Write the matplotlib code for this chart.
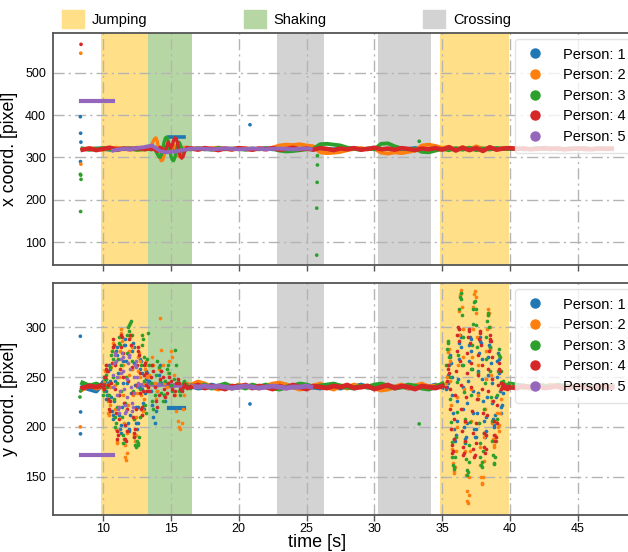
import matplotlib
matplotlib.use("Agg")
import matplotlib.pyplot as plt
import numpy as np
from matplotlib.lines import Line2D
from matplotlib.patches import Patch

plt.rcParams["font.family"] = ["Liberation Sans", "DejaVu Sans"]
nan = np.nan

# ---- data ----
person_labels = ["Person: 1", "Person: 2", "Person: 3", "Person: 4", "Person: 5"]
person_colors = ["tab:blue", "tab:orange", "tab:green", "tab:red", "tab:purple"]

jumping_spans = [(9.85, 13.3), (34.85, 39.95)]
shaking_spans = [(13.3, 16.55)]
crossing_spans = [(22.8, 26.3), (30.25, 34.15)]

# common coarse time grid for the steady tracks (0.5 s)
t_band = np.arange(8.5, 47.51, 0.5)

x_band_p1 = ([320, 319, 321, 320, 318, 321, 320, 322, 319, 320] + [nan] * 6 +
             [320, 321, 319, 320, 322, 320, 319, 321, 320, 319,
              320, 322, 319, 321, 320, 318, 321, 320, 319, 321,
              320, 319, 321, 320, 322, 319, 320, 321, 319, 320,
              321, 319, 320, 322, 320, 319, 321, 320, 322, 319,
              321, 318, 322, 320, 319, 321, 320,
              320, 321, 319, 320, 321, 320, 319, 321, 320, 320, 321, 319, 320, 321, 320, 320])
x_band_p2 = ([319, 322, 320, 318, 321, 323, 319, 321, 318, 320] + [nan] * 6 +
             [320, 322, 319, 321, 323, 320, 318, 321, 322, 319,
              321, 320, 323, 328, 330, 329, 331, 328, 326, 312,
              310, 311, 313, 317, 320, 322, 319, 321, 311, 309,
              312, 310, 313, 316, 328, 330, 327, 322, 325, 318,
              324, 319, 326, 320, 323, 318, 322,
              321, 320, 322, 319, 321, 320, 322, 321, 319, 320, 322, 321, 320, 319, 321, 322])
x_band_p3 = ([321, 318, 320, 322, 319, 317, 321, 320, 318, 319] + [nan] * 6 +
             [319, 321, 320, 318, 322, 319, 321, 320, 318, 321,
              319, 321, 320, 316, 314, 315, 317, 319, 320, 331,
              332, 330, 328, 323, 320, 318, 321, 319, 332, 333,
              326, 321, 319, 320, 313, 312, 316, 320, 317, 322,
              318, 323, 317, 321, 319, 322, 320,
              320, 321, 319, 320, 322, 320, 321, 319, 320, 321, 320, 322, 319, 320, 321, 320])
x_band_p4 = ([318, 321, 317, 320, 323, 318, 321, 319, 322, 320] + [nan] * 6 +
             [321, 318, 322, 320, 317, 321, 319, 322, 320, 318,
              321, 319, 322, 318, 320, 323, 319, 321, 318, 322,
              320, 317, 321, 319, 322, 318, 320, 323, 319, 321,
              318, 322, 320, 317, 321, 319, 322, 318, 324, 316,
              323, 317, 322, 315, 324, 318, 321,
              322, 320, 321, 319, 320, 322, 320, 321, 319, 320, 321, 320, 319, 321, 320, 320])

y_band_p1 = ([240, 238, 236, 244] + [nan] * 12 +
             [241, 239, 240, 242, 240, 241, 239, 240, 241, 240,
              240, 241, 239, 240, 242, 240, 239, 241, 240, 239,
              241, 240, 239, 241, 240, 242, 240, 239, 241, 240,
              240, 241, 239, 240, 241, 240, 242, 240] + [nan] * 9 +
             [240, 241, 240, 239, 241, 240, 240, 241, 239, 240, 241, 240, 240, 239, 241, 240])
y_band_p2 = ([238, 242, 239, 241] + [nan] * 12 +
             [242, 245, 243, 240, 238, 241, 239, 242, 240, 241,
              239, 241, 243, 244, 242, 240, 238, 239, 241, 243,
              240, 238, 241, 239, 242, 240, 241, 239, 237, 238,
              240, 242, 239, 241, 243, 240, 241, 242] + [nan] * 9 +
             [242, 241, 240, 239, 241, 240, 242, 240, 239, 241, 240, 241, 239, 240, 241, 240])
y_band_p3 = ([244, 241, 243, 240] + [nan] * 12 +
             [241, 240, 242, 239, 241, 243, 240, 241, 239, 242,
              240, 242, 239, 238, 240, 241, 243, 242, 240, 241,
              242, 243, 241, 240, 239, 241, 240, 242, 243, 241,
              239, 240, 242, 241, 239, 238, 240, 243] + [nan] * 9 +
             [243, 242, 241, 240, 242, 241, 240, 242, 241, 240, 241, 242, 240, 241, 240, 241])
y_band_p4 = ([239, 241, 240, 242] + [nan] * 12 +
             [240, 242, 239, 241, 240, 238, 241, 240, 242, 239,
              241, 240, 238, 241, 239, 242, 240, 238, 241, 240,
              239, 241, 240, 242, 239, 240, 241, 238, 240, 242,
              239, 241, 240, 238, 241, 240, 239, 241] + [nan] * 9 +
             [240, 239, 241, 240, 242, 239, 240, 241, 239, 240, 241, 240, 239, 241, 240, 240])

# head shaking, x coordinate, 13.0 .. 16.5 s every 0.1 s
t_shake_x = np.linspace(13.0, 16.5, 36)
x_shake_p1 = [320, 321, 319, 320, 322, 321, 319, 320, 321, 320, 322, 321, 319, 320, 321,
              324, 322, 320, 321, 319, 320, 322, 321, 319, 320, 321, 320, 319, 321, 320,
              322, 321, 320, 319, 321, 320]
x_shake_p2 = [320, 321, 322, 320, 319, 323, 330, 338, 344, 346, 338, 318, 298, 292, 294,
              306, 318, 324, 326, 322, 318, 324, 330, 326, 314, 304, 302, 308, 316, 322,
              324, 322, 320, 321, 319, 320]
x_shake_p3 = [319, 320, 318, 321, 320, 318, 322, 324, 320, 314, 308, 302, 300, 306, 320,
              336, 346, 348, 340, 322, 304, 294, 292, 300, 316, 330, 336, 330, 320, 312,
              314, 318, 320, 321, 319, 320]
x_shake_p4 = [320, 318, 321, 319, 322, 320, 318, 321, 319, 316, 314, 318, 324, 322, 316,
              312, 316, 326, 336, 330, 322, 328, 340, 346, 344, 332, 314, 302, 298, 302,
              312, 320, 324, 322, 320, 321]

# jumping #1, y coordinate, 10.0 .. 13.3 s every 0.05 s
t_jump1 = np.linspace(10.0, 13.3, 67)
y_jump1_p1 = [240, 244, 250, 246, 236, 228, 232, 244, 256, 262,
              258, 246, 230, 216, 208, 212, 226, 246, 264, 276,
              280, 272, 254, 232, 212, 198, 194, 202, 220, 244,
              266, 282, 288, 282, 266, 244, 222, 204, 196, 198,
              212, 234, 258, 276, 284, 280, 264, 242, 220, 204,
              198, 204, 220, 240, 258, 268, 266, 254, 238, 224,
              218, 222, 234, 248, 256, 254, 246]
y_jump1_p2 = [238, 240, 246, 256, 262, 256, 242, 226, 214, 212,
              222, 240, 260, 276, 284, 280, 264, 242, 218, 198,
              186, 184, 196, 220, 250, 276, 294, 298, 286, 262,
              232, 204, 182, 170, 167, 174, 194, 222, 252, 276,
              290, 292, 280, 258, 232, 208, 192, 186, 192, 210,
              234, 256, 270, 274, 266, 250, 232, 218, 212, 216,
              228, 244, 258, 266, 262, 250, 240]
y_jump1_p3 = [232, 236, 242, 248, 252, 248, 240, 232, 228, 232,
              244, 260, 272, 276, 268, 250, 228, 210, 200, 204,
              220, 244, 268, 284, 290, 282, 262, 236, 210, 192,
              184, 188, 202, 224, 250, 274, 292, 300, 302, 296,
              304, 306, 292, 266, 236, 208, 190, 182, 180, 182,
              186, 184, 182, 190, 210, 238, 262, 282, 292, 288,
              270, 246, 222, 214, 236, 268, 294]
y_jump1_p4 = [240, 238, 242, 250, 258, 262, 256, 242, 228, 218,
              216, 226, 244, 264, 280, 288, 282, 262, 238, 214,
              196, 188, 192, 208, 232, 258, 280, 292, 290, 274,
              250, 224, 202, 188, 186, 196, 218, 246, 272, 288,
              292, 282, 260, 234, 210, 194, 190, 198, 218, 242,
              262, 276, 280, 272, 254, 234, 218, 212, 220, 236,
              252, 262, 264, 254, 242, 236, 240]
t_jump1_p5 = np.linspace(10.7, 12.6, 39)
y_jump1_p5 = [240, 252, 264, 272, 274, 266, 250, 232, 218, 214,
              220, 236, 254, 268, 274, 270, 256, 238, 222, 214,
              216, 230, 248, 264, 272, 270, 258, 240, 224, 216,
              220, 234, 250, 262, 266, 260, 250, 244, 242]

# head shaking, y coordinate, 13.4 .. 16.5 s every 0.1 s
t_shake_y = np.linspace(13.4, 16.5, 32)
t_shake_y_p1 = np.linspace(13.4, 14.6, 13)
y_shake_p1 = [246, 236, 222, 210, 204, 216, 236, 252, 262, 256, 244, 232, 226]
y_shake_p2 = [252, 262, 270, 262, 244, 228, 236, 258, 309, 277, 262, 244, 232, 240, 254, 266,
              276, 270, 252, 232, 216, 206, 200, 198, 204, 218, 232, 240, 244, 242, 240, 241]
y_shake_p3 = [262, 244, 226, 218, 232, 252, 266, 260, 246, 234, 226, 232, 246, 258, 262, 254,
              242, 236, 248, 277, 262, 246, 236, 232, 238, 244, 246, 243, 240, 241, 239, 240]
y_shake_p4 = [236, 250, 262, 256, 240, 226, 220, 232, 248, 256, 250, 238, 230, 234, 244, 250,
              246, 238, 232, 236, 244, 248, 244, 238, 236, 240, 243, 241, 239, 240, 241, 240]

# jumping #2, y coordinate, 35.3 .. 40.0 s every 0.05 s
t_jump2 = np.linspace(35.3, 40.0, 95)
y_jump2_p1 = [238, 240, 244, 252, 262, 270, 272, 264, 250, 232,
              214, 198, 188, 186, 192, 206, 226, 248, 268, 284,
              292, 290, 280, 262, 240, 218, 200, 188, 184, 190,
              204, 224, 246, 266, 282, 290, 288, 276, 258, 236,
              214, 198, 190, 190, 198, 214, 234, 256, 274, 286,
              290, 284, 268, 248, 226, 206, 194, 190, 196, 210,
              230, 252, 270, 282, 286, 280, 264, 244, 224, 208,
              200, 202, 212, 230, 250, 266, 274, 268, 254, 236,
              220, 214, 222, 234, 242, 240, 239,
              240, 241, 239, 240, 242, 240, 239, 241]
y_jump2_p2 = [244, 250, 262, 275, 278, 266, 246, 222, 198, 178,
              164, 156, 154, 160, 176, 200, 230, 262, 292, 316,
              332, 337, 334, 320, 298, 270, 238, 205, 176, 152,
              136, 126, 124, 132, 150, 176, 206, 238, 270, 298,
              320, 333, 336, 330, 314, 290, 262, 232, 204, 180,
              162, 150, 144, 143, 150, 166, 190, 218, 248, 276,
              298, 312, 318, 314, 300, 278, 252, 226, 204, 188,
              180, 182, 192, 205, 214, 208, 200, 196, 202, 214,
              228, 238, 242, 244, 241, 240, 239,
              241, 240, 242, 239, 240, 241, 240, 242]
y_jump2_p3 = [262, 278, 286, 284, 270, 250, 228, 205, 185, 170,
              162, 158, 160, 170, 190, 215, 245, 272, 298, 318,
              330, 334, 328, 312, 290, 262, 235, 208, 185, 168,
              157, 152, 155, 165, 182, 205, 232, 258, 282, 303,
              318, 325, 326, 318, 302, 280, 254, 228, 204, 184,
              170, 162, 160, 165, 176, 194, 218, 244, 268, 290,
              306, 314, 312, 300, 280, 256, 230, 206, 186, 172,
              164, 163, 170, 186, 208, 232, 256, 272, 278, 270,
              256, 245, 240, 242, 246, 243, 241,
              243, 242, 241, 243, 240, 242, 241, 240]
y_jump2_p4 = [240, 246, 258, 262, 254, 238, 218, 198, 182, 174,
              176, 188, 208, 232, 256, 276, 292, 300, 298, 286,
              266, 242, 218, 196, 180, 172, 174, 186, 206, 230,
              254, 274, 290, 298, 296, 284, 264, 240, 216, 194,
              178, 170, 172, 184, 204, 228, 252, 272, 288, 296,
              294, 282, 262, 238, 214, 194, 180, 174, 178, 192,
              212, 236, 258, 276, 288, 292, 286, 270, 248, 226,
              206, 192, 186, 190, 204, 222, 242, 258, 264, 256,
              244, 238, 240, 243, 241, 239, 240,
              239, 241, 240, 238, 240, 241, 239, 240]

# person 5: frozen box at start, then its own track
t_hold_p5 = [8.35, 10.7]
x_hold_p5 = [433, 433]
y_hold_p5 = [172, 172]
t_track_x_p5 = [10.75, 11.0, 11.5, 12.0, 12.5, 13.0, 13.3, 13.6, 13.9, 14.2, 14.6, 15.0,
                15.4, 15.8, 16.2, 16.5, 17.0, 17.5, 18.0, 18.5, 19.0, 19.5, 20.0, 20.5,
                21.0, 21.5, 22.0, 22.5, 23.0, 23.5, 24.0, 24.5, 25.0, 25.3]
x_track_p5 = [316, 318, 320, 319, 322, 324, 326, 328, 322, 315, 312, 313,
              314, 317, 319, 320, 321, 320, 319, 320, 321, 320, 319, 320,
              321, 320, 319, 320, 321, 320, 319, 320, 321, 320]
t_track_y_p5 = [12.6, 13.0, 13.5, 14.0, 14.5, 15.0, 15.5, 16.0, 16.5, 17.0, 17.5, 18.0,
                18.5, 19.0, 19.5, 20.0, 20.5, 21.0, 21.5, 22.0, 22.5, 23.0, 23.5, 24.0,
                24.5, 25.0, 25.3]
y_track_p5 = [241, 242, 243, 242, 243, 241, 242, 240, 241, 240, 241, 240,
              241, 240, 239, 240, 241, 240, 239, 240, 241, 240, 239, 240,
              240, 241, 240]

# person 1: box stuck while shaking
t_stuck_p1 = [14.85, 16.0]
x_stuck_p1 = [348, 348]
y_stuck_p1 = [219, 219]

# isolated detections (time, value, person index)
x_out_t = [8.38, 8.36, 8.33, 8.35, 8.37, 8.34, 8.37, 8.33, 8.36, 8.38, 8.35, 20.83,
           25.8, 25.8, 25.78, 25.75, 25.75, 33.3]
x_out_v = [567, 546, 396, 357, 336, 290, 284, 260, 258, 248, 172, 377,
           304, 282, 241, 180, 69, 338]
x_out_p = [3, 1, 0, 0, 0, 0, 1, 2, 2, 2, 2, 0, 2, 2, 2, 2, 2, 2]
y_out_t = [8.33, 8.35, 8.34, 8.33, 8.3, 8.35, 20.83, 33.3]
y_out_v = [291, 215, 193, 200, 230, 236, 223, 203]
y_out_p = [0, 0, 0, 1, 2, 2, 0, 2]

# ---- plotting ----
SPAN_YELLOW = "#ffdf88"
SPAN_GREEN = "#b6d7a4"
SPAN_GRAY = "#d3d3d3"
GRID_STYLE = dict(color="#b4b4b4", linewidth=1.0, linestyle=(0, (8, 3, 1.5, 3)))
DOT = dict(s=7, linewidths=0, zorder=3)


def style_axes(ax):
    for t0, t1 in jumping_spans:
        ax.axvspan(t0, t1, color=SPAN_YELLOW, lw=0, zorder=0.2)
    for t0, t1 in shaking_spans:
        ax.axvspan(t0, t1, color=SPAN_GREEN, lw=0, zorder=0.2)
    for t0, t1 in crossing_spans:
        ax.axvspan(t0, t1, color=SPAN_GRAY, lw=0, zorder=0.2)
    ax.set_axisbelow(True)
    ax.grid(True, **GRID_STYLE)
    for sp in ax.spines.values():
        sp.set_color("#555555")
        sp.set_linewidth(1.3)
    ax.tick_params(axis="y", length=0, pad=5, labelsize=9)
    ax.tick_params(axis="x", length=4, width=1, color="#555555", labelsize=9, pad=1.5)


def add_person_legend(ax):
    handles = [Line2D([], [], ls="", marker="o", ms=6.5, color=c) for c in person_colors]
    ax.legend(handles, person_labels, loc="upper left", bbox_to_anchor=(0.788, 0.975),
              borderaxespad=0, fontsize=10.5, handlelength=1.6, handletextpad=1.1,
              labelspacing=0.45, borderpad=0.6, framealpha=0.8, edgecolor="#dddddd")


fig = plt.figure(figsize=(6.28, 5.52), dpi=100)
ax_x = fig.add_axes([53 / 628, 1 - 265 / 552, 586 / 628, 232 / 552])
ax_y = fig.add_axes([53 / 628, 1 - 515 / 552, 586 / 628, 232 / 552], sharex=ax_x)

# --- x coordinate panel ---
style_axes(ax_x)
x_bands = [x_band_p1, x_band_p2, x_band_p3, x_band_p4]
x_shakes = [x_shake_p1, x_shake_p2, x_shake_p3, x_shake_p4]
for i in range(4):
    lw = 3.2 if i == 3 else 2.8
    ax_x.plot(t_band, x_bands[i], color=person_colors[i], lw=lw, zorder=2 + i * 0.1)
    ax_x.plot(t_shake_x, x_shakes[i], color=person_colors[i], lw=2.4, zorder=2 + i * 0.1)
ax_x.plot(t_stuck_p1, x_stuck_p1, color=person_colors[0], lw=2.6, zorder=2.05)
ax_x.plot(t_hold_p5, x_hold_p5, color=person_colors[4], lw=3, zorder=2.5)
ax_x.plot(t_track_x_p5, x_track_p5, color=person_colors[4], lw=2.8, zorder=2.5)
ax_x.scatter(x_out_t, x_out_v, c=[person_colors[p] for p in x_out_p], **DOT)
ax_x.set_ylim(45.7, 593.8)
ax_x.set_yticks([100, 200, 300, 400, 500])
ax_x.set_ylabel("x coord. [pixel]", fontsize=12.8, labelpad=5)
ax_x.tick_params(axis="x", labelbottom=False)
add_person_legend(ax_x)

# --- y coordinate panel ---
style_axes(ax_y)
y_bands = [y_band_p1, y_band_p2, y_band_p3, y_band_p4]
y_jump1 = [y_jump1_p1, y_jump1_p2, y_jump1_p3, y_jump1_p4]
y_jump2 = [y_jump2_p1, y_jump2_p2, y_jump2_p3, y_jump2_p4]
y_shakes = [y_shake_p1, y_shake_p2, y_shake_p3, y_shake_p4]
for i in range(4):
    ax_y.plot(t_band, y_bands[i], color=person_colors[i], lw=3.5, zorder=2 + i * 0.1)
    ax_y.scatter(t_jump1, y_jump1[i], color=person_colors[i], **DOT)
    ax_y.scatter(t_jump2, y_jump2[i], color=person_colors[i], **DOT)
    t_sh = t_shake_y_p1 if i == 0 else t_shake_y
    ax_y.scatter(t_sh, y_shakes[i], color=person_colors[i], **DOT)
ax_y.plot(t_stuck_p1, y_stuck_p1, color=person_colors[0], lw=3, zorder=2.5)
ax_y.plot(t_hold_p5, y_hold_p5, color=person_colors[4], lw=3, zorder=2.5)
ax_y.scatter(t_jump1_p5, y_jump1_p5, color=person_colors[4], **DOT)
ax_y.plot(t_track_y_p5, y_track_p5, color=person_colors[4], lw=3.5, zorder=2.5)
ax_y.scatter(y_out_t, y_out_v, c=[person_colors[p] for p in y_out_p], **DOT)
ax_y.set_ylim(111.5, 344.5)
ax_y.set_yticks([150, 200, 250, 300])
ax_y.set_ylabel("y coord. [pixel]", fontsize=12.8, labelpad=5)
ax_y.set_xlabel("time [s]", fontsize=13)
ax_y.xaxis.set_label_coords((317 - 53) / 586, -0.082)
add_person_legend(ax_y)

ax_x.set_xlim(6.315, 6.315 + 586 / 13.57)
ax_x.set_xticks([10, 15, 20, 25, 30, 35, 40, 45])

# activity legend above the panels
act_handles = [Patch(color=SPAN_YELLOW), Patch(color=SPAN_GREEN), Patch(color=SPAN_GRAY)]
fig.legend(act_handles, ["Jumping", "Shaking", "Crossing"], loc="center",
           bbox_to_anchor=(0.456, 0.966), ncol=3, frameon=False, fontsize=10.5,
           handlelength=1.5, handleheight=1.5, handletextpad=0.55, columnspacing=6.6)

fig.savefig("out.png", dpi=100)
